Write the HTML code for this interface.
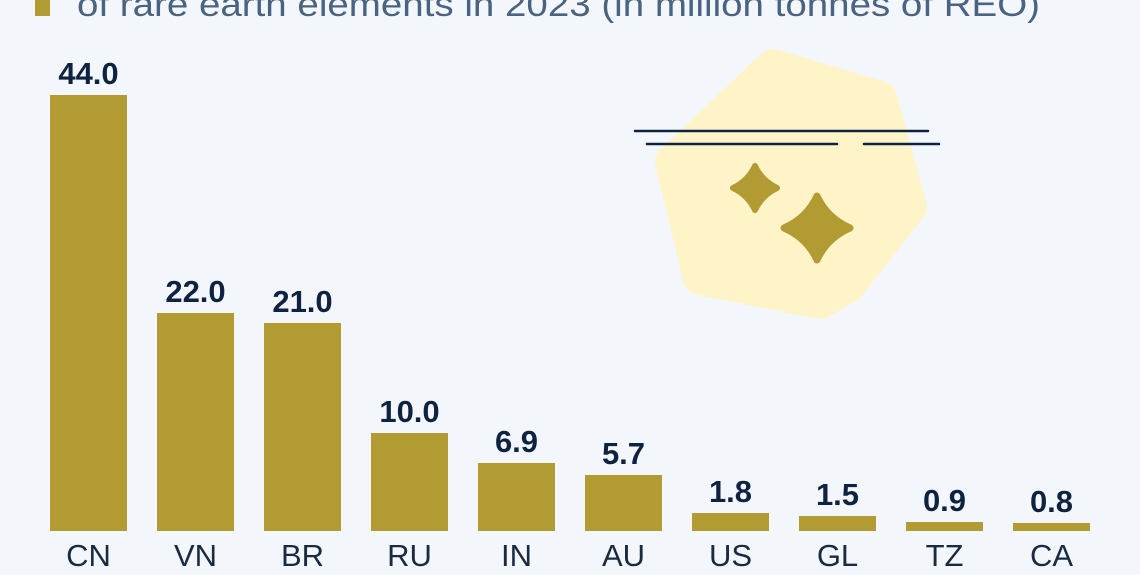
<!DOCTYPE html>
<html><head><meta charset="utf-8"><style>
body{margin:0;width:1140px;height:570px;overflow:hidden;background:#f3f7fb;font-family:"Liberation Sans",sans-serif}
</style></head><body>
<svg width="1140" height="570" xmlns="http://www.w3.org/2000/svg">
<rect width="1140" height="570" fill="#f3f7fb"/>
<rect x="35" y="-4" width="15" height="20" fill="#b39b33"/>
<text x="77" y="16" font-size="34" fill="#4a6380" textLength="963" lengthAdjust="spacingAndGlyphs">of rare earth elements in 2023 (in million tonnes of REO)</text>
<polygon points="773,66 880,98 910,207 848,286 820,302 700,278 672,162" fill="#fef4c8" stroke="#fef4c8" stroke-width="34" stroke-linejoin="round"/>
<line x1="635" y1="131" x2="928" y2="131" stroke="#0f2340" stroke-width="2.5" stroke-linecap="round"/>
<line x1="647" y1="144" x2="837" y2="144" stroke="#0f2340" stroke-width="2.5" stroke-linecap="round"/>
<line x1="864" y1="144" x2="939" y2="144" stroke="#0f2340" stroke-width="2.5" stroke-linecap="round"/>
<path d="M755,166 Q762,181 777,188 Q762,195 755,210 Q748,195 733,188 Q748,181 755,166Z" fill="#b39b33" stroke="#b39b33" stroke-width="6" stroke-linejoin="round"/>
<path d="M817,196 Q827,218 850,228 Q827,238 817,260 Q807,238 784,228 Q807,218 817,196Z" fill="#b39b33" stroke="#b39b33" stroke-width="7" stroke-linejoin="round"/>
<g fill="#b39b33">
<rect x="50" y="95" width="77" height="436"/>
<rect x="157" y="313" width="77" height="218"/>
<rect x="264" y="323" width="77" height="208"/>
<rect x="371" y="433" width="77" height="98"/>
<rect x="478" y="463" width="77" height="68"/>
<rect x="585" y="475" width="77" height="56"/>
<rect x="692" y="513" width="77" height="18"/>
<rect x="799" y="516" width="77" height="15"/>
<rect x="906" y="522" width="77" height="9"/>
<rect x="1013" y="523" width="77" height="8"/>
</g>
<g font-size="31" font-weight="bold" fill="#0f2340" text-anchor="middle">
<text x="88.5" y="84">44.0</text>
<text x="195.5" y="302">22.0</text>
<text x="302.5" y="312">21.0</text>
<text x="409.5" y="422">10.0</text>
<text x="516.5" y="452">6.9</text>
<text x="623.5" y="464">5.7</text>
<text x="730.5" y="502">1.8</text>
<text x="837.5" y="505">1.5</text>
<text x="944.5" y="511">0.9</text>
<text x="1051.5" y="512">0.8</text>
</g>
<g font-size="31" fill="#1a2a40" text-anchor="middle">
<text x="88.5" y="566">CN</text>
<text x="195.5" y="566">VN</text>
<text x="302.5" y="566">BR</text>
<text x="409.5" y="566">RU</text>
<text x="516.5" y="566">IN</text>
<text x="623.5" y="566">AU</text>
<text x="730.5" y="566">US</text>
<text x="837.5" y="566">GL</text>
<text x="944.5" y="566">TZ</text>
<text x="1051.5" y="566">CA</text>
</g>
</svg>
</body></html>
